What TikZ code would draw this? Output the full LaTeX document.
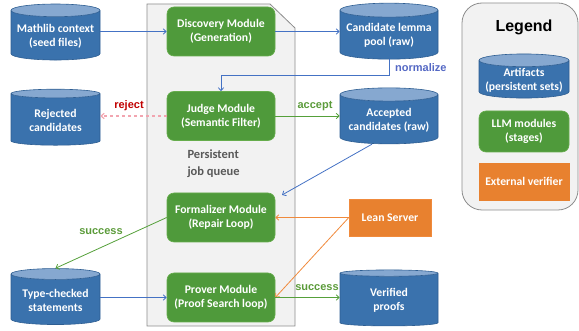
\documentclass[tikz,border=0pt]{standalone}
\usepackage{fontspec}
\setmainfont{Carlito}
\newfontfamily\lblfont{Liberation Sans}
\usetikzlibrary{shapes.geometric,arrows.meta,calc}
\definecolor{cylbody}{HTML}{3A72AD}
\definecolor{cyltop}{HTML}{86A8D0}
\definecolor{cylline}{HTML}{2E5E92}
\definecolor{modgreen}{HTML}{4F9A3B}
\definecolor{modline}{HTML}{66AD4C}
\definecolor{orng}{HTML}{E8812F}
\definecolor{lblue}{HTML}{4472C4}
\definecolor{lgreen}{HTML}{55A03A}
\definecolor{lorange}{HTML}{F08A3C}
\definecolor{rejpink}{HTML}{F2A5B0}
\definecolor{rejred}{HTML}{C00000}
\definecolor{normblue}{HTML}{5468C4}
\definecolor{acgreen}{HTML}{5B9B3A}
\definecolor{panel}{HTML}{F2F2F2}
\definecolor{panelline}{HTML}{8C8C8C}
\definecolor{qtext}{HTML}{595959}
\tikzset{
  txt/.style={font=\bfseries\fontsize{11.7}{14}\selectfont, text=white, align=center},
  cyl/.style={txt, shape=cylinder, shape border rotate=90, aspect=0.16,
    cylinder uses custom fill, cylinder body fill=cylbody, cylinder end fill=cyltop,
    draw=cylline, line width=0.6pt, minimum width=89pt, minimum height=56pt, inner sep=1pt},
  module/.style={txt, draw=modline, fill=modgreen, line width=0.6pt, rounded corners=7pt,
    minimum width=108pt, minimum height=49pt, inner sep=1pt},
  orbox/.style={txt, draw=lorange, fill=orng, minimum width=82pt, minimum height=37pt, inner sep=1pt},
  conn/.style={line width=0.8pt, -{Straight Barb[length=3pt,width=5.5pt]}},
  bl/.style={conn, draw=lblue},
  gr/.style={conn, draw=lgreen},
  orl/.style={conn, draw=lorange},
  pinkdash/.style={conn, draw=rejpink, dashed, line width=1.2pt},
  lbl/.style={font=\lblfont\bfseries\fontsize{11}{12}\selectfont, inner sep=0pt}
}
\begin{document}
\begin{tikzpicture}[x=1pt,y=-1pt]
\useasboundingbox (0,0) rectangle (579,331);
% container
\draw[fill=panel, draw=panelline, line width=0.8pt] (147,4) -- (270,4) -- (295,28) -- (295,326) -- (147,326) -- cycle;
\node[font=\bfseries\fontsize{12.5}{17}\selectfont, text=qtext, align=left, anchor=north west] (queue) at (184,146) {Persistent\\job queue};
% legend panel
\draw[fill=panel, draw=panelline, line width=0.8pt, rounded corners=20pt] (462,3) rectangle (578,210);
\node[font=\lblfont\bfseries\fontsize{16}{18}\selectfont] (legend) at (524,27) {Legend};
\node[cyl, minimum width=90pt, minimum height=40pt] (lart) at (524,80) {Artifacts\\(persistent sets)};
\node[module, minimum width=90pt, minimum height=41pt] (lllm) at (524,131.5) {LLM modules\\(stages)};
\node[orbox, draw=orng, minimum width=90pt] (lext) at (524,181.5) {External verifier};
% cylinders
\node[cyl] (mathlib) at (55.5,36) {Mathlib context\\(seed files)};
\node[cyl] (rej) at (55.5,120) {Rejected\\candidates};
\node[cyl] (tc) at (55.5,300) {Type-checked\\statements};
\node[cyl, minimum width=98pt] (pool) at (389,35.5) {Candidate lemma\\pool (raw)};
\node[cyl, minimum width=98pt] (acc) at (389,120) {Accepted\\candidates (raw)};
\node[cyl, minimum width=98pt] (ver) at (389,300) {Verified\\proofs};
% modules
\node[module] (disc) at (221,31.5) {Discovery Module\\(Generation)};
\node[module] (judge) at (221,116) {Judge Module\\(Semantic Filter)};
\node[module] (form) at (221,217.5) {Formalizer Module\\(Repair Loop)};
\node[module] (prov) at (221,297.5) {Prover Module\\(Proof Search loop)};
\node[orbox] (lean) at (390,217.5) {Lean Server};
% connectors
\draw[bl] (disc.west -| mathlib.east) -- (disc.west);
\draw[bl] (disc.east) -- (disc.east -| pool.west);
\draw[bl] (pool.south) -- ++(0,16) -| (judge.north);
\node[lbl, text=normblue, anchor=west] (normlbl) at (395,68) {normalize};
\draw[pinkdash] (judge.west) -- (judge.west -| rej.east);
\node[lbl, text=rejred] (rejlbl) at (129,106) {reject};
\draw[gr] (judge.east) -- (judge.east -| acc.west);
\node[lbl, text=acgreen] (acclbl) at (315,106) {accept};
\coordinate (fin) at (282,195);
\draw[bl] ($(acc.south)+(-17,0)$) -- (fin);
\draw[orl] (lean.west) -- (form.east);
\draw[orl] (lean.west) -- (prov.east);
\draw[gr] (form.west) -- (tc.north);
\node[lbl, text=acgreen] (suc1) at (101,232) {success};
\draw[bl] (prov.west -| tc.east) -- (prov.west);
\draw[gr] (prov.east) -- (prov.east -| ver.west);
\node[lbl, text=acgreen] (suc2) at (317,288) {success};
\end{tikzpicture}
\end{document}
